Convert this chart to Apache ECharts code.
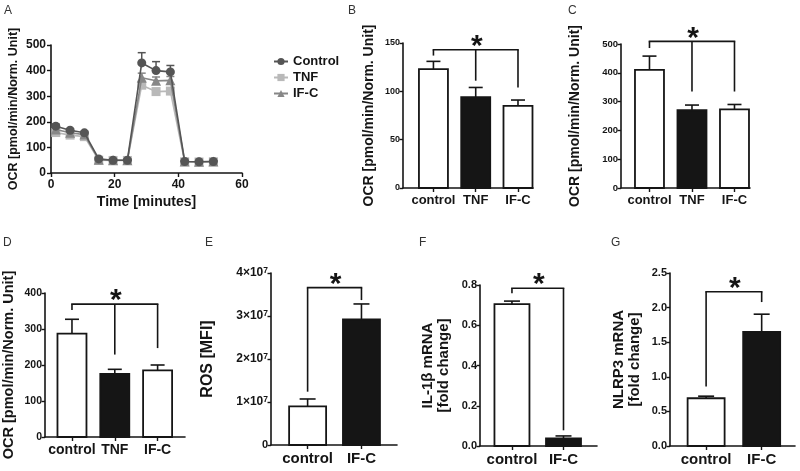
<!DOCTYPE html>
<html><head><meta charset="utf-8">
<script src="https://cdn.jsdelivr.net/npm/echarts@6/dist/echarts.min.js"></script>
<style>html,body{margin:0;padding:0;background:#fff}#c{width:800px;height:471px}</style>
</head><body><div id="c"></div><script>
// ---------- Panel A data ----------
const timeMin  = [1.5, 6, 10.5, 15, 19.5, 24, 28.5, 33, 37.5, 42, 46.5, 51];
const aControl = [183, 167, 157, 55, 50, 50, 430, 400, 395, 45, 44, 45];
const aControlErr = [8, 6, 6, 5, 4, 4, 40, 35, 25, 3, 3, 3];
const aTNF     = [158, 148, 142, 50, 49, 49, 343, 318, 320, 44, 43, 44];
const aTNFErr  = [6, 6, 6, 4, 3, 3, 15, 12, 12, 3, 3, 3];
const aIFC     = [170, 157, 150, 52, 50, 50, 372, 360, 362, 45, 44, 45];
const aIFCErr  = [6, 6, 6, 4, 3, 3, 18, 15, 15, 3, 3, 3];
const aSeriesNames = ['Control', 'TNF', 'IF-C'];

// ---------- Bar panels data ----------
const cats3 = ['control', 'TNF', 'IF-C'];
const cats2 = ['control', 'IF-C'];

const bMean = [123, 94, 85];
const bErrTop = [131, 104, 91];
const bBracketTop = 143;
const bBracketLegs = [137, 111, 104];

const cMean = [410, 270, 273];
const cErrTop = [458, 288, 290];
const cBracketTop = 509;
const cBracketLegs = [486, 335, 335];

const dMean = [287, 175, 185];
const dErrTop = [327, 188, 200];
const dBracketTop = 369;
const dBracketLegs = [353, 229, 247];

const eMean = [9.0e6, 2.92e7];
const eErrTop = [1.07e7, 3.28e7];
const eBracketTop = 3.66e7;
const eBracketLegs = [1.24e7, 3.37e7];

const fMean = [0.705, 0.038];
const fErrTop = [0.72, 0.05];
const fBracketTop = 0.784;
const fBracketLegs = [0.759, 0.078];

const gMean = [0.69, 1.65];
const gErrTop = [0.72, 1.905];
const gBracketTop = 2.23;
const gBracketLegs = [0.86, 2.08];

// ---------- styling ----------
const FONT = '"Liberation Sans", Arial, Helvetica, sans-serif';
const INK = '#151515';
const lineColors = ['#555555', '#b9b9b9', '#878787'];
const lineSymbols = ['circle', 'rect', 'triangle'];

const chart = echarts.init(document.getElementById('c'));

const grids = [], xAxes = [], yAxes = [], series = [];

function baseAxis() {
  return {
    axisLine: { show: true, onZero: false, lineStyle: { color: INK, width: 1.6 } },
    axisTick: { show: true, length: 4, inside: false, lineStyle: { color: INK, width: 1.4 } },
    splitLine: { show: false },
    nameMoveOverlap: false,
    axisLabel: { color: INK, fontFamily: FONT, fontWeight: 'bold' }
  };
}

// ---------- Panel A ----------
grids.push({ left: 51, top: 45, width: 191, height: 128, outerBoundsMode: 'none', containLabel: false });
xAxes.push(Object.assign(baseAxis(), {
  gridIndex: 0, type: 'value', min: 0, max: 60, interval: 20,
  name: 'Time [minutes]', nameLocation: 'middle', nameGap: 22,
  nameTextStyle: { fontFamily: FONT, fontWeight: 'bold', fontSize: 14, color: INK }
}));
xAxes[0].axisLabel.fontSize = 12; xAxes[0].axisLabel.margin = 6;
yAxes.push(Object.assign(baseAxis(), {
  gridIndex: 0, type: 'value', min: 0, max: 500, interval: 100,
  name: 'OCR [pmol/min/Norm. Unit]', nameLocation: 'middle', nameGap: 31,
  nameTextStyle: { fontFamily: FONT, fontWeight: 'bold', fontSize: 12.5, color: INK }
}));
yAxes[0].axisLabel.fontSize = 12; yAxes[0].axisLabel.margin = 5;

const aMeans = [aControl, aTNF, aIFC];
const aErrs = [aControlErr, aTNFErr, aIFCErr];
const aZ = [5, 3, 4];
for (let s = 0; s < 3; s++) {
  series.push({
    type: 'custom', xAxisIndex: 0, yAxisIndex: 0, z: aZ[s] - 0.5, silent: true,
    data: timeMin.map((t, i) => [t, aMeans[s][i], aErrs[s][i]]),
    renderItem: function (params, api) {
      const p1 = api.coord([api.value(0), api.value(1)]);
      const p2 = api.coord([api.value(0), api.value(1) + api.value(2)]);
      return { type: 'group', children: [
        { type: 'line', shape: { x1: p1[0], y1: p1[1], x2: p2[0], y2: p2[1] }, style: { stroke: lineColors[s], lineWidth: 1.5 } },
        { type: 'line', shape: { x1: p2[0] - 4, y1: p2[1], x2: p2[0] + 4, y2: p2[1] }, style: { stroke: lineColors[s], lineWidth: 1.5 } }
      ]};
    }
  });
  series.push({
    type: 'line', name: aSeriesNames[s], xAxisIndex: 0, yAxisIndex: 0, z: aZ[s],
    data: timeMin.map((t, i) => [t, aMeans[s][i]]),
    symbol: lineSymbols[s], symbolSize: s === 2 ? 10 : 9, showSymbol: true,
    lineStyle: { color: lineColors[s], width: 1.6 },
    itemStyle: { color: lineColors[s] }, animation: false
  });
}

// ---------- Bar panels ----------
function makeBarPanel(cfg) {
  const gi = grids.length;
  grids.push({ left: cfg.left, top: cfg.top, width: cfg.width, height: cfg.height, outerBoundsMode: 'none', containLabel: false });
  const idx = cfg.cats.map((c, i) => i);
  const xa = Object.assign(baseAxis(), { gridIndex: gi, type: 'value', min: cfg.xMin, max: cfg.xMax });
  xa.axisTick.customValues = idx;
  xa.axisLabel = Object.assign(xa.axisLabel, { customValues: idx, fontSize: cfg.catFont, margin: 6,
    formatter: v => cfg.cats[Math.round(v)] });
  xAxes.push(xa);
  const ya = Object.assign(baseAxis(), { gridIndex: gi, type: 'value', min: 0, max: cfg.yMax, interval: cfg.yInt,
    name: cfg.yName, nameLocation: 'middle', nameGap: cfg.nameGap,
    nameTextStyle: { fontFamily: FONT, fontWeight: 'bold', fontSize: cfg.nameFont, color: INK, lineHeight: cfg.nameFont + 1 } });
  ya.axisLabel.fontSize = cfg.tickFont; ya.axisLabel.margin = 3;
  ya.axisTick.length = 3.5;
  if (cfg.yFmt) ya.axisLabel.formatter = cfg.yFmt;
  if (cfg.yRich) ya.axisLabel.rich = cfg.yRich;
  yAxes.push(ya);

  series.push({
    type: 'custom', xAxisIndex: gi, yAxisIndex: gi, silent: true, z: 3,
    data: cfg.mean.map((m, i) => [i, m, cfg.errTop[i]]),
    renderItem: function (params, api) {
      const x = api.value(0);
      const p0 = api.coord([x, 0]), p1 = api.coord([x, api.value(1)]), p2 = api.coord([x, api.value(2)]);
      const w = cfg.barW, cw = cfg.capW;
      return { type: 'group', children: [
        { type: 'line', shape: { x1: p1[0], y1: p1[1], x2: p2[0], y2: p2[1] }, style: { stroke: INK, lineWidth: 1.6 } },
        { type: 'line', shape: { x1: p2[0] - cw / 2, y1: p2[1], x2: p2[0] + cw / 2, y2: p2[1] }, style: { stroke: INK, lineWidth: 1.6 } },
        { type: 'rect', shape: { x: p1[0] - w / 2, y: p1[1], width: w, height: p0[1] - p1[1] },
          style: { fill: cfg.fills[params.dataIndex], stroke: INK, lineWidth: 1.8 } }
      ]};
    }
  });
  // significance bracket
  series.push({
    type: 'custom', xAxisIndex: gi, yAxisIndex: gi, silent: true, z: 4,
    data: cfg.legs.map((l, i) => [i, l]),
    renderItem: function (params, api) {
      const x = api.value(0);
      const pt = api.coord([x, cfg.bracketTop]), pb = api.coord([x, api.value(1)]);
      const ch = [{ type: 'line', shape: { x1: pt[0], y1: pt[1], x2: pb[0], y2: pb[1] }, style: { stroke: INK, lineWidth: 1.6 } }];
      if (params.dataIndex === 0) {
        const last = cfg.legs.length - 1;
        const pe = api.coord([last, cfg.bracketTop]);
        ch.push({ type: 'line', shape: { x1: pt[0] - 0.8, y1: pt[1], x2: pe[0] + 0.8, y2: pe[1] }, style: { stroke: INK, lineWidth: 1.6 } });
        const pm = api.coord([last / 2, cfg.bracketTop]);
        ch.push({ type: 'text', style: { text: '*', x: pm[0] + 1, y: pm[1] - 3, fontSize: 30, fontWeight: 'bold', fontFamily: FONT,
          fill: INK, align: 'center', verticalAlign: 'middle' } });
      }
      return { type: 'group', children: ch };
    }
  });
}

const OCR = 'OCR [pmol/min/Norm. Unit]';
makeBarPanel({ left: 403, top: 43, width: 130, height: 145, xMin: -0.72, xMax: 2.355, yMax: 150, yInt: 50,
  cats: cats3, mean: bMean, errTop: bErrTop, legs: bBracketLegs, bracketTop: bBracketTop,
  fills: ['#fff', INK, '#fff'], barW: 29, capW: 14, catFont: 13, tickFont: 9, nameFont: 14, nameGap: 26, yName: OCR });
makeBarPanel({ left: 621, top: 44, width: 129, height: 144, xMin: -0.67, xMax: 2.365, yMax: 500, yInt: 100,
  cats: cats3, mean: cMean, errTop: cErrTop, legs: cBracketLegs, bracketTop: cBracketTop,
  fills: ['#fff', INK, '#fff'], barW: 29, capW: 14, catFont: 13, tickFont: 9.5, nameFont: 14, nameGap: 38, yName: OCR });
makeBarPanel({ left: 45, top: 293, width: 140, height: 144, xMin: -0.63, xMax: 2.64, yMax: 400, yInt: 100,
  cats: cats3, mean: dMean, errTop: dErrTop, legs: dBracketLegs, bracketTop: dBracketTop,
  fills: ['#fff', INK, '#fff'], barW: 29, capW: 14, catFont: 14, tickFont: 10.5, nameFont: 14.5, nameGap: 28, yName: OCR });
makeBarPanel({ left: 271, top: 273, width: 126, height: 172, xMin: -0.68, xMax: 1.66, yMax: 4e7, yInt: 1e7,
  cats: cats2, mean: eMean, errTop: eErrTop, legs: eBracketLegs, bracketTop: eBracketTop,
  fills: ['#fff', INK], barW: 37, capW: 16, catFont: 15, tickFont: 11, nameFont: 16, nameGap: 55, yName: 'ROS [MFI]',
  yFmt: v => v === 0 ? '0' : '{m|' + (v / 1e7) + '×10}{s|7}',
  yRich: { m: { fontSize: 12, fontWeight: 'bold', fontFamily: FONT, color: INK },
           s: { fontSize: 8.5, fontWeight: 'bold', fontFamily: FONT, color: INK, verticalAlign: 'top', padding: [0, 0, 5, 0] } } });
makeBarPanel({ left: 480, top: 285, width: 117, height: 161, xMin: -0.62, xMax: 1.65, yMax: 0.8, yInt: 0.2,
  cats: cats2, mean: fMean, errTop: fErrTop, legs: fBracketLegs, bracketTop: fBracketTop,
  fills: ['#fff', INK], barW: 35, capW: 16, catFont: 15, tickFont: 11, nameFont: 15, nameGap: 28, yName: 'IL-1β mRNA\n[fold change]',
  yFmt: v => v.toFixed(1) });
makeBarPanel({ left: 670, top: 273, width: 125, height: 173, xMin: -0.65, xMax: 1.6, yMax: 2.5, yInt: 0.5,
  cats: cats2, mean: gMean, errTop: gErrTop, legs: gBracketLegs, bracketTop: gBracketTop,
  fills: ['#fff', INK], barW: 37, capW: 16, catFont: 15, tickFont: 11, nameFont: 15, nameGap: 27, yName: 'NLRP3 mRNA\n[fold change]',
  yFmt: v => v.toFixed(1) });

const panelLetters = [['A', 4, 5], ['B', 348, 5], ['C', 568, 5], ['D', 3, 237], ['E', 205, 237], ['F', 419, 237], ['G', 611, 237]];

chart.setOption({
  animation: false,
  backgroundColor: '#fff',
  textStyle: { fontFamily: FONT },
  grid: grids, xAxis: xAxes, yAxis: yAxes, series: series,
  legend: {
    data: aSeriesNames, orient: 'vertical', left: 268, top: 50, itemGap: 3, itemWidth: 14, itemHeight: 9,
    textStyle: { fontFamily: FONT, fontWeight: 'bold', fontSize: 13, color: INK }, selectedMode: false
  },
  graphic: panelLetters.map(p => ({ type: 'text', left: p[1], top: p[2],
    style: { text: p[0], fontSize: 12, fontFamily: FONT, fill: '#333' } }))
});
</script></body></html>
